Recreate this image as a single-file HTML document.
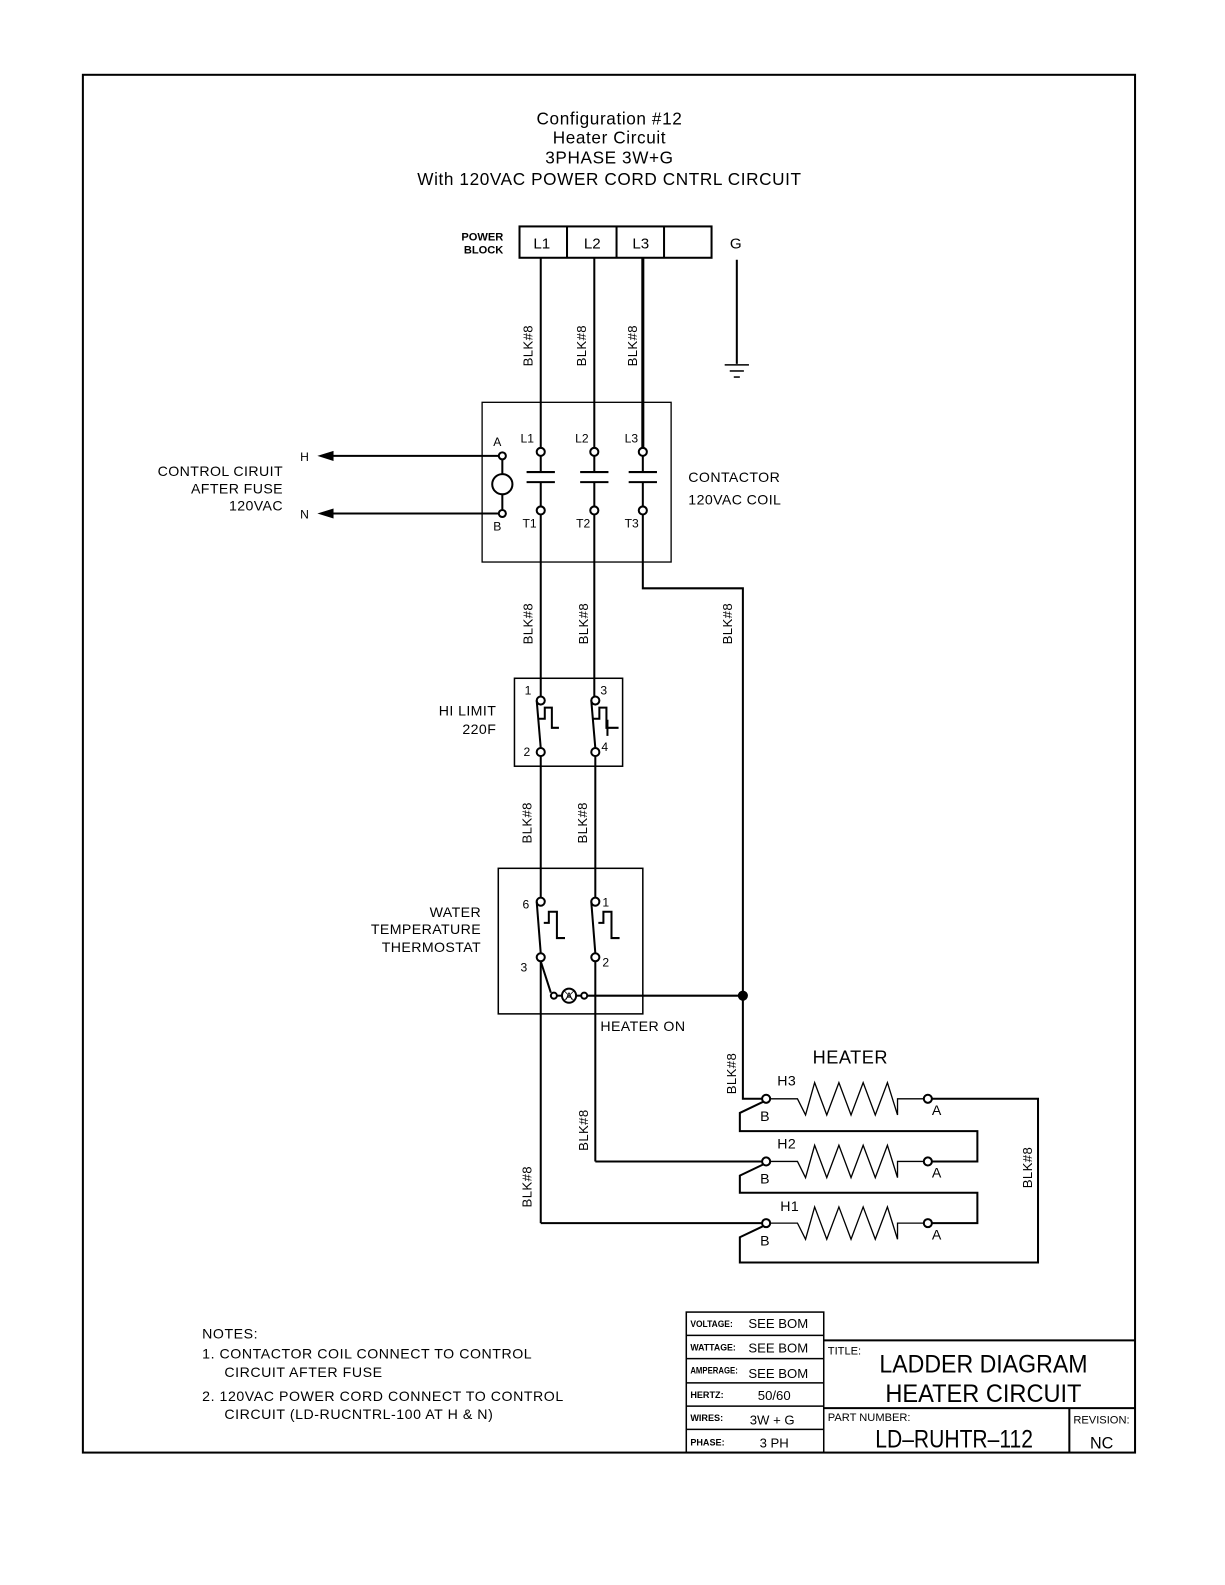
<!DOCTYPE html>
<html><head><meta charset="utf-8"><style>
html,body{margin:0;padding:0;background:#fff}
svg{display:block}
text{font-family:"Liberation Sans",sans-serif;fill:#000}
</style></head><body>
<svg width="1225" height="1585" viewBox="0 0 1212 1568" preserveAspectRatio="none" xmlns="http://www.w3.org/2000/svg">
<g fill="none" stroke="#000" stroke-width="2">
<rect x="82" y="74" width="1041" height="1363"/>
<rect x="514" y="224" width="190" height="31"/>
<line x1="561" y1="224" x2="561" y2="255"/><line x1="610" y1="224" x2="610" y2="255"/><line x1="657" y1="224" x2="657" y2="255"/>
<line x1="729" y1="257" x2="729" y2="360"/>
<line x1="717" y1="361" x2="741" y2="361" stroke-width="1.5"/>
<line x1="722" y1="367" x2="736" y2="367" stroke-width="1.5"/>
<line x1="726" y1="373" x2="732" y2="373" stroke-width="1.5"/>
<line x1="535" y1="255" x2="535" y2="443"/>
<line x1="588" y1="255" x2="588" y2="443"/>
<line x1="636" y1="255" x2="636" y2="443" stroke-width="3"/>
<rect x="477" y="398" width="187" height="158" stroke-width="1.3"/>
<circle cx="497" cy="451" r="3.5"/><circle cx="497" cy="479" r="10"/><circle cx="497" cy="508" r="3.5"/>
<line x1="497" y1="455" x2="497" y2="469"/><line x1="497" y1="489" x2="497" y2="504"/>
<line x1="325" y1="451" x2="493" y2="451"/><line x1="325" y1="508" x2="493" y2="508"/>
</g>
<polygon points="314,451 330,446 330,456" fill="#000"/>
<polygon points="314,508 330,503 330,513" fill="#000"/>
<g fill="none" stroke="#000" stroke-width="2">
<g id="ct">
<circle cx="535" cy="447" r="4"/><line x1="535" y1="451" x2="535" y2="467"/>
<line x1="521" y1="467" x2="549" y2="467"/><line x1="521" y1="477" x2="549" y2="477"/>
<line x1="535" y1="477" x2="535" y2="501"/><circle cx="535" cy="505" r="4"/>
</g>
<use href="#ct" x="53"/><use href="#ct" x="101"/>
<line x1="535" y1="509" x2="535" y2="689"/>
<line x1="588" y1="509" x2="588" y2="689"/>
<polyline points="636,509 636,582 735,582 735,1087 754,1087"/>
<rect x="509" y="671" width="107" height="87" stroke-width="1.5"/>
<circle cx="535" cy="693" r="4"/><circle cx="535" cy="744" r="4"/>
<circle cx="589" cy="693" r="4"/><circle cx="589" cy="744" r="4"/>
<line x1="531" y1="693" x2="535" y2="740"/><line x1="585" y1="693" x2="589" y2="740"/>
<polyline points="533,711 539,711 539,700 546,700 546,720 553,720"/>
<polyline points="587,711 593,711 593,700 600,700 600,720 612,720"/>
<line x1="601" y1="712" x2="601" y2="728"/>
<line x1="535" y1="748" x2="535" y2="888"/>
<line x1="589" y1="748" x2="589" y2="888"/>
<rect x="493" y="859" width="143" height="144" stroke-width="1.5"/>
<circle cx="535" cy="892" r="4"/><circle cx="535" cy="947" r="4"/>
<circle cx="589" cy="892" r="4"/><circle cx="589" cy="947" r="4"/>
<line x1="531" y1="892" x2="535" y2="943"/><line x1="585" y1="892" x2="589" y2="943"/>
<polyline points="538,913 543,913 543,902 551,902 551,928 559,928"/>
<polyline points="592,913 597,913 597,902 605,902 605,928 613,928"/>
<line x1="535" y1="951" x2="545" y2="982"/>
<circle cx="548" cy="985" r="3"/><line x1="551" y1="985" x2="556" y2="985"/>
<circle cx="563" cy="985" r="7"/><line x1="570" y1="985" x2="575" y2="985"/>
<circle cx="578" cy="985" r="3"/><line x1="581" y1="985" x2="735" y2="985"/>
<line x1="535" y1="951" x2="535" y2="1210"/><line x1="535" y1="1210" x2="754" y2="1210"/>
<line x1="589" y1="951" x2="589" y2="1149"/><line x1="589" y1="1149" x2="754" y2="1149"/>
<g id="ht">
<circle cx="758" cy="1087" r="4"/>
<polyline points="762,1087 789,1087 797,1103 806,1071 818,1103 830,1071 842,1103 854,1071 866,1103 878,1071 888,1103 888,1087 914,1087" stroke-width="1.3"/>
<circle cx="918" cy="1087" r="4"/>
</g>
<use href="#ht" y="62"/><use href="#ht" y="123"/>
<polyline points="755,1090 732,1101 732,1119 967,1119 967,1149 922,1149"/>
<polyline points="755,1152 732,1163 732,1180 967,1180 967,1210 922,1210"/>
<polyline points="755,1213 732,1224 732,1249 1027,1249 1027,1087 922,1087"/>
<rect x="679" y="1298" width="136" height="139" stroke-width="1.5"/>
<line x1="679" y1="1321" x2="815" y2="1321" stroke-width="1.5"/>
<line x1="679" y1="1344" x2="815" y2="1344" stroke-width="1.5"/>
<line x1="679" y1="1368" x2="815" y2="1368" stroke-width="1.5"/>
<line x1="679" y1="1391" x2="815" y2="1391" stroke-width="1.5"/>
<line x1="679" y1="1414" x2="815" y2="1414" stroke-width="1.5"/>
<line x1="815" y1="1326" x2="1123" y2="1326"/>
<line x1="815" y1="1393" x2="1123" y2="1393"/>
<line x1="1058" y1="1393" x2="1058" y2="1437"/>
</g>
<circle cx="735" cy="985" r="5" fill="#000"/>
<text x="563" y="989" font-size="10" text-anchor="middle">A</text>
<line x1="558" y1="980" x2="568" y2="990" stroke="#000" stroke-width="0.8"/><line x1="568" y1="980" x2="558" y2="990" stroke="#000" stroke-width="0.8"/>

<g font-size="17" text-anchor="middle" letter-spacing="0.6">
<text x="603" y="123">Configuration  #12</text>
<text x="603" y="142">Heater  Circuit</text>
<text x="603" y="162">3PHASE  3W+G</text>
<text x="603" y="183">With  120VAC  POWER  CORD  CNTRL  CIRCUIT</text>
</g>
<g font-size="11" font-weight="bold" text-anchor="end">
<text x="498" y="238">POWER</text><text x="498" y="251">BLOCK</text>
</g>
<g font-size="15" text-anchor="middle">
<text x="536" y="246">L1</text><text x="586" y="246">L2</text><text x="634" y="246">L3</text><text x="728" y="246">G</text>
</g>
<g font-size="13" letter-spacing="0.4">
<g transform="translate(527,342) rotate(-90)"><text text-anchor="middle">BLK#8</text></g>
<g transform="translate(580,342) rotate(-90)"><text text-anchor="middle">BLK#8</text></g>
<g transform="translate(630,342) rotate(-90)"><text text-anchor="middle">BLK#8</text></g>
<g transform="translate(527,617) rotate(-90)"><text text-anchor="middle">BLK#8</text></g>
<g transform="translate(582,617) rotate(-90)"><text text-anchor="middle">BLK#8</text></g>
<g transform="translate(724,617) rotate(-90)"><text text-anchor="middle">BLK#8</text></g>
<g transform="translate(526,814) rotate(-90)"><text text-anchor="middle">BLK#8</text></g>
<g transform="translate(581,814) rotate(-90)"><text text-anchor="middle">BLK#8</text></g>
<g transform="translate(728,1062) rotate(-90)"><text text-anchor="middle">BLK#8</text></g>
<g transform="translate(582,1118) rotate(-90)"><text text-anchor="middle">BLK#8</text></g>
<g transform="translate(526,1174) rotate(-90)"><text text-anchor="middle">BLK#8</text></g>
<g transform="translate(1021,1155) rotate(-90)"><text text-anchor="middle">BLK#8</text></g>
</g>
<g font-size="12">
<text x="488" y="441">A</text><text x="488" y="525">B</text>
<text x="515" y="438">L1</text><text x="569" y="438">L2</text><text x="618" y="438">L3</text>
<text x="517" y="522">T1</text><text x="570" y="522">T2</text><text x="618" y="522">T3</text>
<text x="297" y="456">H</text><text x="297" y="513">N</text>
<text x="519" y="687">1</text><text x="594" y="687">3</text><text x="518" y="748">2</text><text x="595" y="743">4</text>
<text x="517" y="899">6</text><text x="596" y="897">1</text><text x="515" y="961">3</text><text x="596" y="956">2</text>
</g>
<g font-size="14" letter-spacing="0.4">
<text x="280" y="471" text-anchor="end">CONTROL CIRUIT</text>
<text x="280" y="488" text-anchor="end">AFTER  FUSE</text>
<text x="280" y="505" text-anchor="end">120VAC</text>
<text x="681" y="477">CONTACTOR</text>
<text x="681" y="499">120VAC  COIL</text>
<text x="491" y="708" text-anchor="end">HI  LIMIT</text>
<text x="491" y="726" text-anchor="end">220F</text>
<text x="476" y="907" text-anchor="end">WATER</text>
<text x="476" y="924" text-anchor="end">TEMPERATURE</text>
<text x="476" y="942" text-anchor="end">THERMOSTAT</text>
<text x="594" y="1020">HEATER  ON</text>
<text x="769" y="1074">H3</text><text x="769" y="1136">H2</text><text x="772" y="1198">H1</text>
<text x="752" y="1109">B</text><text x="752" y="1171">B</text><text x="752" y="1232">B</text>
<text x="922" y="1103">A</text><text x="922" y="1165">A</text><text x="922" y="1226">A</text>
</g>
<text x="804" y="1052" font-size="18" letter-spacing="0.5">HEATER</text>
<g font-size="14" letter-spacing="0.55">
<text x="200" y="1324">NOTES:</text>
<text x="200" y="1344">1.  CONTACTOR  COIL  CONNECT  TO  CONTROL</text>
<text x="222" y="1362">CIRCUIT  AFTER  FUSE</text>
<text x="200" y="1386">2.  120VAC  POWER  CORD  CONNECT  TO  CONTROL</text>
<text x="222" y="1404">CIRCUIT  (LD-RUCNTRL-100  AT  H &amp; N)</text>
</g>
<g font-size="9" font-weight="bold">
<text x="683" y="1313" textLength="42" lengthAdjust="spacingAndGlyphs">VOLTAGE:</text>
<text x="683" y="1336" textLength="45" lengthAdjust="spacingAndGlyphs">WATTAGE:</text>
<text x="683" y="1359" textLength="47" lengthAdjust="spacingAndGlyphs">AMPERAGE:</text>
<text x="683" y="1383">HERTZ:</text>
<text x="683" y="1406">WIRES:</text>
<text x="683" y="1430">PHASE:</text>
</g>
<g font-size="13" text-anchor="middle">
<text x="770" y="1314">SEE  BOM</text>
<text x="770" y="1338">SEE  BOM</text>
<text x="770" y="1363">SEE  BOM</text>
<text x="766" y="1385">50/60</text>
<text x="764" y="1409">3W  +  G</text>
<text x="766" y="1432">3 PH</text>
</g>
<g font-size="11">
<text x="819" y="1340">TITLE:</text>
<text x="819" y="1406">PART  NUMBER:</text>
<text x="1062" y="1408">REVISION:</text>
</g>
<g font-size="25" text-anchor="middle">
<text x="973" y="1358" textLength="206" lengthAdjust="spacingAndGlyphs">LADDER  DIAGRAM</text>
<text x="973" y="1387" textLength="194" lengthAdjust="spacingAndGlyphs">HEATER  CIRCUIT</text>
<text x="944" y="1432" textLength="156" lengthAdjust="spacingAndGlyphs">LD–RUHTR–112</text>
</g>
<text x="1090" y="1433" font-size="16" text-anchor="middle">NC</text>
</svg>
</body></html>
